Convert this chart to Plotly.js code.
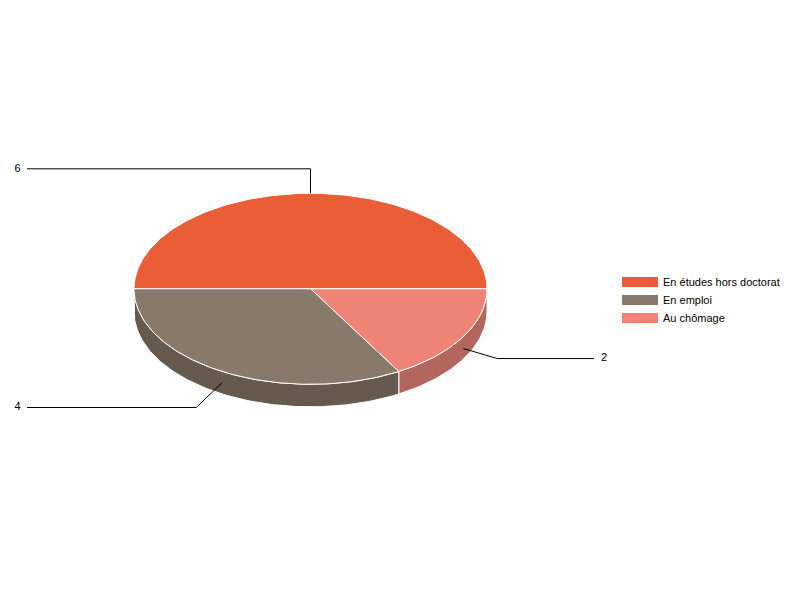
<!DOCTYPE html>
<html>
<head>
<meta charset="utf-8">
<script src="https://cdn.plot.ly/plotly-3.0.1.min.js"></script>
<style>html,body{margin:0;padding:0;background:#fff}#chart{width:800px;height:600px}</style>
</head>
<body>
<div id="chart"></div>
<script>
// Chart data
const categories = ["En études hors doctorat", "En emploi", "Au chômage"];
const values = [6, 4, 2];
const topColors = ["#EA5E37", "#88796B", "#EF8375"];
const sideColors = ["#A34227", "#66594E", "#B2665E"];

// Draw order of the slices: clockwise from 9 o'clock, chômage follows études
const sliceOrder = [0, 2, 1];

// Pie geometry, pixels
const cx = 310.5, cy = 288.8, rx = 176.5, ry = 95.5, depth = 22.5;
const W = 800, H = 600;

// Leader elbows, pixels relative to anchor (x right, y down on screen)
const leaderPaths = {
  0: {drop: 0, elbow: [0, -24.5], endX: 27},
  1: {drop: 11, elbow: [-26, 25], endX: 27},
  2: {drop: 12, elbow: [34, 10], endX: 594}
};
const labelX = {0: 17.5, 1: 17.5, 2: 604};
const legendX = 617, legendTops = [267.5, 285.5, 303.5];

const total = values.reduce((a, b) => a + b, 0);
const traces = [];
const px = p => p / rx, py = p => p / ry;
const rad = d => d * Math.PI / 180;
// screen angle: 0 = right, growing clockwise (downward on screen)
const ex = a => Math.cos(rad(a));
const ey = a => -Math.sin(rad(a));
function arc(a0, a1) {
  const n = Math.max(2, Math.ceil(Math.abs(a1 - a0)));
  const out = [];
  for (let i = 0; i <= n; i++) out.push(a0 + (a1 - a0) * i / n);
  return out;
}

let ang = 180;
const slices = sliceOrder.map(i => {
  const sweep = values[i] / total * 360;
  const s = {i, a0: ang, a1: ang + sweep, mid: ang + sweep / 2};
  ang += sweep;
  return s;
});

const base = {type: "scatter", mode: "lines", fill: "toself", hoverinfo: "skip", showlegend: false};

// Side walls: only the front half (0..180 on screen) is visible
slices.forEach(s => {
  [[s.a0, s.a1], [s.a0 - 360, s.a1 - 360]].forEach(([a0, a1]) => {
    const lo = Math.max(a0, 0), hi = Math.min(a1, 180);
    if (hi <= lo) return;
    const top = arc(lo, hi), bot = top.slice().reverse();
    const x = top.map(ex).concat(bot.map(ex));
    const y = top.map(ey).concat(bot.map(a => ey(a) - py(depth)));
    x.push(x[0]); y.push(y[0]);
    traces.push(Object.assign({}, base, {
      x, y, fillcolor: sideColors[s.i], line: {color: "#ffffff", width: 1}
    }));
  });
});

// Top faces
slices.forEach(s => {
  const a = arc(s.a0, s.a1);
  const x = [0].concat(a.map(ex), [0]);
  const y = [0].concat(a.map(ey), [0]);
  traces.push(Object.assign({}, base, {
    x, y, fillcolor: topColors[s.i], line: {color: "#ffffff", width: 1}
  }));
});

// Leader lines and value labels
slices.forEach(s => {
  const p = leaderPaths[s.i];
  const ax = ex(s.mid) * rx, ay = ey(s.mid) * ry - p.drop;
  const bx = ax + p.elbow[0], by = ay - p.elbow[1];
  traces.push({
    type: "scatter", mode: "lines", hoverinfo: "skip", showlegend: false,
    x: [ax, bx, p.endX - cx].map(px),
    y: [ay, by, by].map(py),
    line: {color: "#000000", width: 1}
  });
  traces.push({
    type: "scatter", mode: "text", hoverinfo: "skip", showlegend: false,
    x: [px(labelX[s.i] - cx)], y: [py(by)],
    text: [String(values[s.i])], textposition: "middle center",
    textfont: {family: "Liberation Sans, Arial, sans-serif", size: 11, color: "#000000"}
  });
});

const layout = {
  width: W, height: H,
  margin: {l: 0, r: 0, t: 0, b: 0, pad: 0},
  paper_bgcolor: "#ffffff", plot_bgcolor: "#ffffff",
  xaxis: {visible: false, range: [px(-cx), px(W - cx)], fixedrange: true},
  yaxis: {visible: false, range: [py(cy - H), py(cy)], fixedrange: true},
  showlegend: true
};

// Legend keys: one single-row legend per category, for the exact row pitch
categories.forEach((name, i) => {
  const id = i === 0 ? "legend" : "legend" + (i + 1);
  traces.push({
    type: "scatter", mode: "lines", name, x: [null], y: [null], legend: id,
    line: {color: topColors[i], width: 11}, hoverinfo: "skip", showlegend: true
  });
  layout[id] = {
    x: legendX / W, xanchor: "left", y: 1 - legendTops[i] / H, yanchor: "top",
    itemwidth: 36, borderwidth: 0, bgcolor: "rgba(0,0,0,0)",
    tracegroupgap: 0, itemclick: false, itemdoubleclick: false,
    font: {family: "Liberation Sans, Arial, sans-serif", size: 11, color: "#000000"}
  };
});

Plotly.newPlot("chart", traces, layout, {displayModeBar: false, staticPlot: true});
</script>
</body>
</html>
